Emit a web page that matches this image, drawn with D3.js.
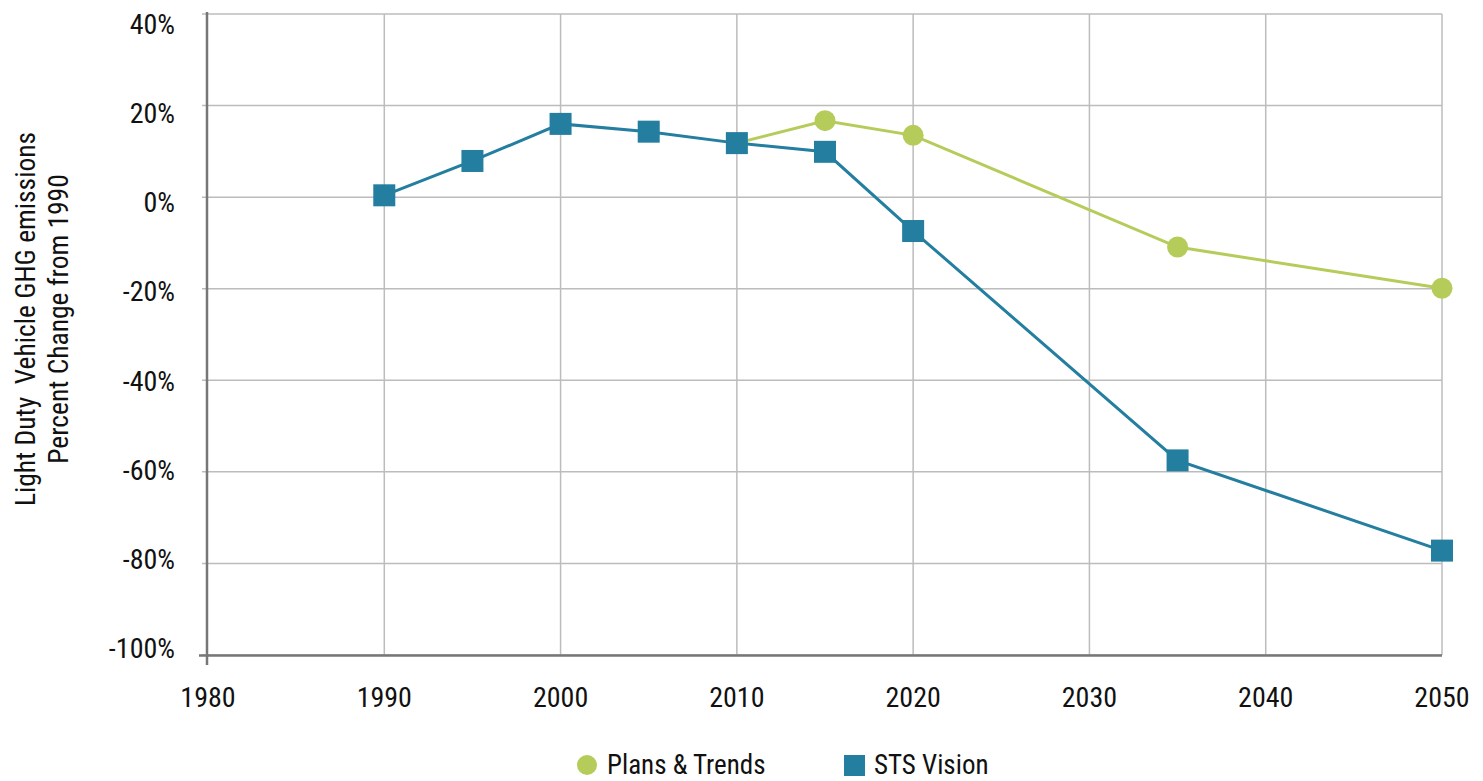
<!DOCTYPE html>
<html><head><meta charset="utf-8">
<script src="https://cdn.jsdelivr.net/npm/d3@7"></script>
<style>
body{margin:0;background:#fff;}
svg text{font-family:"Liberation Sans Narrow","Roboto Condensed","DejaVu Sans Condensed",sans-serif;fill:#111;white-space:pre;}
</style></head><body>
<svg id="c" width="1483" height="781"></svg>
<script>
const xTicks = [1980,1990,2000,2010,2020,2030,2040,2050];
const yTicks = [40,20,0,-20,-40,-60,-80,-100];
const stsYears = [1990,1995,2000,2005,2010,2015,2020,2035,2050];
const stsValues = [0.4,7.9,16.0,14.3,11.8,9.9,-7.4,-57.5,-77.2];
const ptYears = [2010,2015,2020,2035,2050];
const ptValues = [11.8,16.7,13.5,-10.9,-19.9];
const seriesNames = ["Plans & Trends","STS Vision"];
const yTitle = ["Light Duty  Vehicle GHG emissions","Percent Change from 1990"];
const colors = {pt:"#b5cc5a", sts:"#237e9f"};

const svg = d3.select("#c");
const x = d3.scaleLinear().domain([1980,2050]).range([208,1442]);
const y = d3.scaleLinear().domain([-100,40]).range([655,14]);
// tick label baselines are spaced slightly differently from the gridlines in the original
const yLab = d3.scaleLinear().domain([-100,40]).range([658,34]);

// gridlines
svg.append("g").selectAll("line").data(xTicks.slice(1)).join("line")
  .attr("x1",d=>x(d)).attr("x2",d=>x(d)).attr("y1",y(40)).attr("y2",y(-100))
  .attr("stroke","#bcbcbc").attr("stroke-width",1.5);
svg.append("g").selectAll("line").data(yTicks).join("line")
  .attr("x1",x(1980)-6).attr("x2",x(2050)).attr("y1",d=>y(d)).attr("y2",d=>y(d))
  .attr("stroke","#bcbcbc").attr("stroke-width",1.5);

// axes
svg.append("line").attr("x1",x(1980)-1).attr("x2",x(1980)-1).attr("y1",y(40)-2).attr("y2",y(-100)+10)
  .attr("stroke","#777").attr("stroke-width",2.5);
svg.append("line").attr("x1",x(1980)-9).attr("x2",x(2050)).attr("y1",y(-100)+0.5).attr("y2",y(-100)+0.5)
  .attr("stroke","#777").attr("stroke-width",2.5);

// tick labels
svg.append("g").selectAll("text").data(yTicks).join("text")
  .attr("x",175).attr("y",d=>yLab(d)).attr("text-anchor","end").attr("font-size",28)
  .text(d=>d+"%");
svg.append("g").selectAll("text").data(xTicks).join("text")
  .attr("x",d=>x(d)).attr("y",707).attr("text-anchor","middle").attr("font-size",28)
  .text(d=>d);

// y title
const yt = svg.append("text").attr("transform","translate(0,319) rotate(-90)").attr("text-anchor","middle").attr("font-size",27.5);
yt.append("tspan").attr("x",0).attr("y",35).text(yTitle[0]);
yt.append("tspan").attr("x",0).attr("y",68).text(yTitle[1]);

const line = d3.line().x(d=>x(d[0])).y(d=>y(d[1]));
const pt = ptYears.map((d,i)=>[d,ptValues[i]]);
const sts = stsYears.map((d,i)=>[d,stsValues[i]]);

svg.append("path").datum(pt).attr("d",line).attr("fill","none").attr("stroke",colors.pt).attr("stroke-width",3);
svg.append("g").selectAll("circle").data(pt.slice(1)).join("circle")
  .attr("cx",d=>x(d[0])).attr("cy",d=>y(d[1])).attr("r",10.5).attr("fill",colors.pt);

svg.append("path").datum(sts).attr("d",line).attr("fill","none").attr("stroke",colors.sts).attr("stroke-width",3);
svg.append("g").selectAll("rect").data(sts).join("rect")
  .attr("x",d=>x(d[0])-11).attr("y",d=>y(d[1])-11).attr("width",22).attr("height",22).attr("fill",colors.sts);

// legend
svg.append("circle").attr("cx",587).attr("cy",765).attr("r",10).attr("fill",colors.pt);
svg.append("text").attr("x",607).attr("y",774).attr("font-size",27).text(seriesNames[0]);
svg.append("rect").attr("x",844).attr("y",755).attr("width",21).attr("height",21).attr("fill",colors.sts);
svg.append("text").attr("x",874).attr("y",774).attr("font-size",27).text(seriesNames[1]);
</script></body></html>
